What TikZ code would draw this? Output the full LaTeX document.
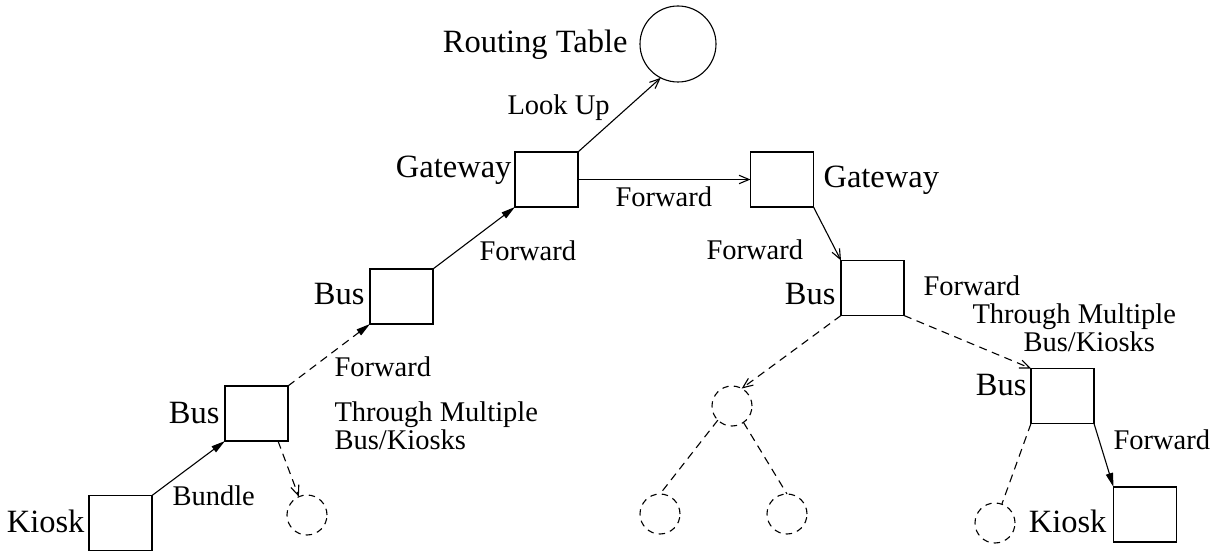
\documentclass[tikz,border=0pt]{standalone}
\usepackage{fontspec}
\setmainfont{Liberation Serif}
\usetikzlibrary{arrows.meta}
\tikzset{
  x=0.5pt, y=-0.5pt,
  every picture/.style={line width=0.55pt},
  box/.style={draw, minimum width=31.5pt, minimum height=27.5pt, inner sep=0pt, outer sep=0pt},
  table/.style={draw, circle, minimum size=38pt, inner sep=0pt, outer sep=0pt},
  ghost/.style={draw, circle, dash pattern=on 3.2pt off 2.6pt, minimum size=20pt, inner sep=0pt, outer sep=0pt},
  big/.style={inner sep=0pt, font=\fontsize{16.25}{19}\selectfont},
  small/.style={inner sep=0pt, font=\fontsize{14.25}{17}\selectfont},
  solidtip/.style={-{Triangle[length=7pt,width=3.6pt]}},
  opentip/.style={-{Straight Barb[length=5pt,width=4.2pt]}},
  dashline/.style={dash pattern=on 4pt off 2.8pt},
}
\begin{document}
\begin{tikzpicture}
\useasboundingbox (0,0) rectangle (1223,551);

% nodes of the forwarding path
\node[box] (k1) at (120.5,523) {};
\node[box] (b1) at (256.5,413.5) {};
\node[box] (b2) at (401.5,296.5) {};
\node[box] (g1) at (546.5,179.5) {};
\node[table] (rt) at (678,44) {};
\node[box] (g2) at (782,179.5) {};
\node[box] (b3) at (872.5,288) {};
\node[box] (b4) at (1062.5,396) {};
\node[box] (k2) at (1145,514.5) {};

% other possible hops
\node[ghost] (c1) at (307,515) {};
\node[ghost] (c2) at (732,406) {};
\node[ghost] (c3) at (660,514) {};
\node[ghost] (c4) at (787,514) {};
\node[ghost] (c5) at (995,523) {};

% labels
\node[big, anchor=base east] (lrt) at (628,53) {Routing Table};
\node[small, anchor=base west] (llook) at (507,115) {Look Up};
\node[big, anchor=base east] (lg1) at (512,178) {Gateway};
\node[small, anchor=base west] (lfg) at (615,206) {Forward};
\node[big, anchor=base west] (lg2) at (823,188) {Gateway};
\node[small, anchor=base west] (lfb3) at (706,260) {Forward};
\node[big, anchor=base east] (lb3) at (836,305) {Bus};
\node[small, anchor=base west] (lfr) at (923,296) {Forward};
\node[small, anchor=base west] (ltr) at (972,323) {Through Multiple};
\node[small, anchor=base west] (lbr) at (1023,351) {Bus/Kiosks};
\node[big, anchor=base east] (lb4) at (1027,395) {Bus};
\node[small, anchor=base west] (lfk2) at (1113,450) {Forward};
\node[big, anchor=base east] (lk2) at (1107,532) {Kiosk};
\node[big, anchor=base east] (lk1) at (85,532) {Kiosk};
\node[small, anchor=base west] (lbun) at (172,505) {Bundle};
\node[big, anchor=base east] (lb1) at (220,423) {Bus};
\node[big, anchor=base east] (lb2) at (365,305) {Bus};
\node[small, anchor=base west] (lfg1) at (479,261) {Forward};
\node[small, anchor=base west] (lfl) at (334,377) {Forward};
\node[small, anchor=base west] (ltl) at (334,422) {Through Multiple};
\node[small, anchor=base west] (lbl) at (334,449) {Bus/Kiosks};

% connectors
\draw[solidtip] (k1.north east) -- (b1.south west);
\draw[solidtip, dashline] (b1.north east) -- (b2.south west);
\draw[solidtip] (b2.north east) -- (g1.south west);
\draw[opentip] (g1.north east) -- (rt.243);
\draw[opentip] (g1.east) -- (g2.west);
\draw[opentip] (g2.south east) -- (b3.north west);
\draw[opentip, dashline] (b3.south east) -- (b4.north west);
\draw[solidtip] (b4.south east) -- (k2.north west);

\draw[opentip, dashline] ([xshift=-5]b1.south east) -- (c1.114);
\draw[opentip, dashline] (b3.south west) -- (c2.61);
\draw[dashline] (c2.225) -- (c3.north);
\draw[dashline] (c2.-55) -- (c4.north);
\draw[dashline] (b4.south west) -- (c5.70);
\end{tikzpicture}
\end{document}
